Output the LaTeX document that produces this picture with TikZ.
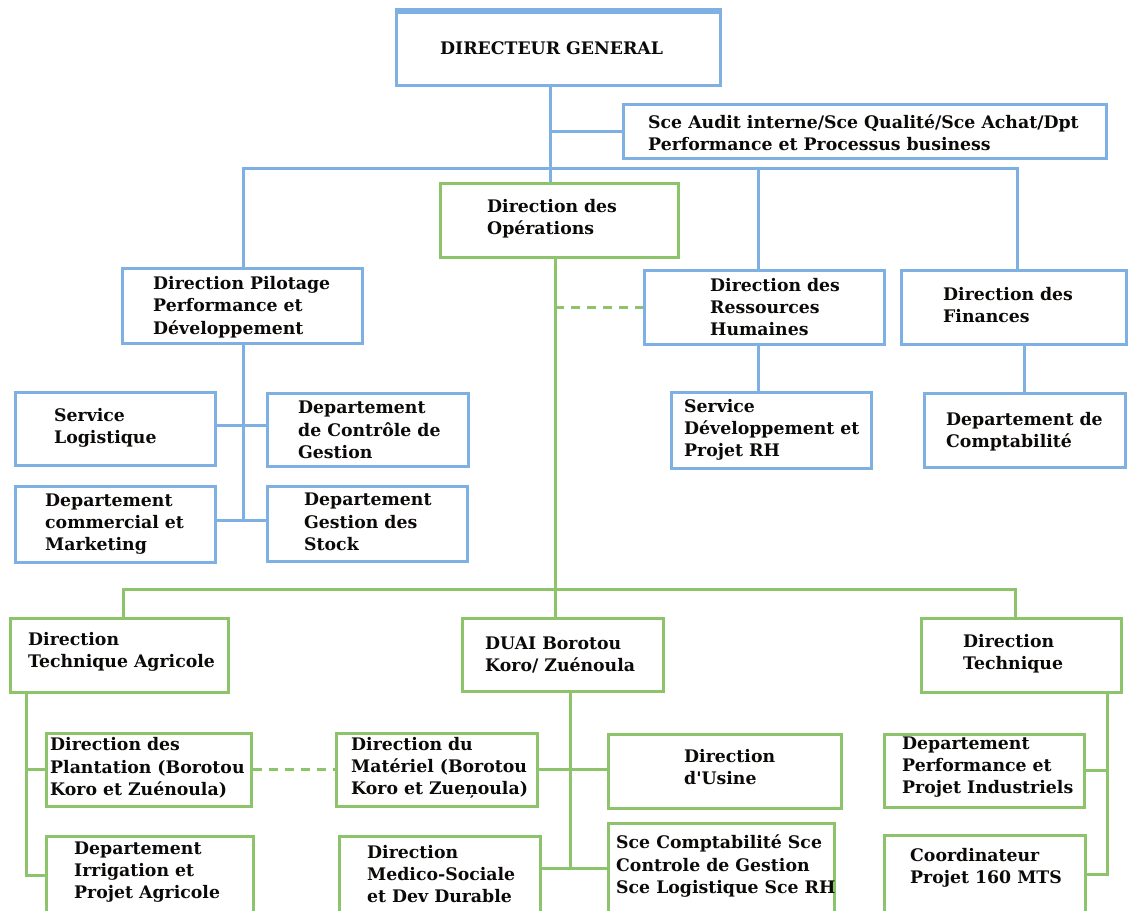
\documentclass[tikz,border=0pt]{standalone}
\usepackage{fontspec}
\setmainfont{DejaVu Serif}[Ligatures=TeXOff]
\begin{document}
\begin{tikzpicture}[x=1pt,y=-1pt,
  blueline/.style={draw={rgb,255:red,126;green,176;blue,228}, line width=3.0pt},
  greenline/.style={draw={rgb,255:red,141;green,195;blue,107}, line width=3.0pt},
  bbox/.style={blueline, rectangle, inner sep=0pt, fill=white},
  gbox/.style={greenline, rectangle, inner sep=0pt, fill=white},
  lbl/.style={anchor=west, align=left, inner sep=0pt, text={rgb,255:red,12;green,10;blue,8},
    font=\fontsize{17.3}{22.3}\selectfont\bfseries},
  dashlink/.style={greenline, dash pattern=on 9pt off 7pt},
]
\clip (0,0) rectangle (1129,910);
\fill[white] (0,0) rectangle (1129,910);

% box helper: name, x1, y1, x2, y2, style
\newcommand\orgbox[6]{%
  \node[#6, minimum width={#4-#2}, minimum height={#5-#3}] (#1) at ({(#2+#4)/2},{(#3+#5)/2}) {};}

% ---------- top level (blue) ----------
\orgbox{dg}{396}{12}{720}{85}{bbox}
\orgbox{audit}{623}{104}{1106}{158}{bbox}
\orgbox{dp}{122}{268}{362}{343}{bbox}
\orgbox{sl}{15}{392}{215}{465}{bbox}
\orgbox{dcg}{267}{393}{468}{466}{bbox}
\orgbox{dcm}{15}{486}{215}{562}{bbox}
\orgbox{dgs}{267}{486}{467}{561}{bbox}
\orgbox{drh}{644}{270}{884}{344}{bbox}
\orgbox{sdrh}{671}{392}{871}{468}{bbox}
\orgbox{df}{901}{270}{1126}{344}{bbox}
\orgbox{dc}{924}{393}{1125}{467}{bbox}

% ---------- operations (green) ----------
\orgbox{dop}{440}{183}{678}{257}{gbox}
\orgbox{dta}{10}{618}{228}{692}{gbox}
\orgbox{duai}{462}{618}{663}{691}{gbox}
\orgbox{dt}{921}{618}{1121}{692}{gbox}
\orgbox{dpl}{46}{733}{251}{806}{gbox}
\orgbox{dipa}{46}{836}{253}{914}{gbox}
\orgbox{dmat}{336}{733}{537}{806}{gbox}
\orgbox{dms}{339}{836}{540}{914}{gbox}
\orgbox{dus}{608}{734}{841}{808}{gbox}
\orgbox{scc}{608}{823}{834}{914}{gbox}
\orgbox{dppi}{884}{734}{1084}{807}{gbox}
\orgbox{coord}{884}{835}{1085}{914}{gbox}

% thick upper edge of the general director box
\draw[blueline, line width=5.5pt] (dg.north west) -- (dg.north east);

% ---------- junction coordinates ----------
\coordinate (trunk) at (550,168);
\coordinate (gtrunk) at (555,589);
\coordinate (dpj) at (243,520);
\coordinate (dtaj) at (26,0);
\coordinate (duaij) at (570,868);
\coordinate (dtj) at (1107,0);

% ---------- blue connectors ----------
\draw[blueline] (dg.south -| trunk) -- (dop.north -| trunk);
\draw[blueline] (trunk |- audit.west) -- (audit.west);
\draw[blueline] (dp.north -| dpj) -- (dpj |- trunk) -- (1017,168) -- (df.north -| 1017,0);
\draw[blueline] ([xshift=-6pt]drh.north) -- ([xshift=-6pt]drh.north |- trunk);
\draw[blueline] (dp.south -| dpj) -- (dpj);
\draw[blueline] (sl.east |- 0,425) -- (dcg.west |- 0,425);
\draw[blueline] (dcm.east |- dpj) -- (dgs.west |- dpj);
\draw[blueline] (drh.south -| 758,0) -- (sdrh.north -| 758,0);
\draw[blueline] (dc.north) -- (dc.north |- df.south);

% ---------- green connectors ----------
\draw[greenline] (dop.south -| gtrunk) -- (duai.north -| gtrunk);
\draw[greenline] (dta.north -| 123,0) -- (123,589) -- (1015,589) -- (dt.north -| 1015,0);
\draw[dashlink] (gtrunk |- drh.west) -- (drh.west);

\draw[greenline] (dta.south -| dtaj) -- (dipa.west -| dtaj) -- (dipa.west);
\draw[greenline] (dpl.west -| dtaj) -- (dpl.west);
\draw[dashlink] (dpl.east) -- (dmat.west);

\draw[greenline] (duai.south -| duaij) -- (duaij);
\draw[greenline] (dmat.east) -- (dus.west |- dmat.east);
\draw[greenline] (dms.east |- duaij) -- (scc.west |- duaij);

\draw[greenline] (dt.south -| dtj) -- (coord.east -| dtj) -- (coord.east);
\draw[greenline] (dppi.east) -- (dppi.east -| dtj);

% ---------- texts ----------
\node[lbl] (tdg) at (440,48) {DIRECTEUR GENERAL};
\node[lbl] (taudit) at (648,133) {Sce Audit interne/Sce Qualité/Sce Achat/Dpt\\Performance et Processus business};
\node[lbl] (tdop) at (487,219) {Direction des\\Opérations};
\node[lbl] (tdp) at (153,307) {Direction Pilotage\\Performance et\\Développement};
\node[lbl] (tsl) at (54,428) {Service\\Logistique};
\node[lbl] (tdcg) at (298,430) {Departement\\de Contrôle de\\Gestion};
\node[lbl] (tdcm) at (45,524) {Departement\\commercial et\\Marketing};
\node[lbl] (tdgs) at (304,522) {Departement\\Gestion des\\Stock};
\node[lbl] (tdrh) at (710,307) {Direction des\\Ressources\\Humaines};
\node[lbl] (tdf) at (943,305) {Direction des\\Finances};
\node[lbl] (tsdrh) at (684,430) {Service\\Développement et\\Projet RH};
\node[lbl] (tdc) at (946,432) {Departement de\\Comptabilité};
\node[lbl] (tdta) at (28,652) {Direction\\Technique Agricole};
\node[lbl] (tduai) at (485,655) {DUAI Borotou\\Koro/ Zuénoula};
\node[lbl] (tdt) at (963,654) {Direction\\Technique};
\node[lbl] (tdpl) at (50,768) {Direction des\\Plantation (Borotou\\Koro et Zuénoula)};
\node[lbl] (tdmat) at (351,768) {Direction du\\Matériel (Borotou\\Koro et Zueņoula)};
\node[lbl] (tdus) at (684,767) {Direction\\d'Usine};
\node[lbl] (tdppi) at (902,767) {Departement\\Performance et\\Projet Industriels};
\node[lbl] (tdipa) at (74,872) {Departement\\Irrigation et\\Projet Agricole};
\node[lbl] (tdms) at (367,874) {Direction\\Medico-Sociale\\et Dev Durable};
\node[lbl] (tscc) at (616,866) {Sce Comptabilité Sce\\Controle de Gestion\\Sce Logistique Sce RH};
\node[lbl] (tcoord) at (910,868) {Coordinateur\\Projet 160 MTS};
\end{tikzpicture}
\end{document}
